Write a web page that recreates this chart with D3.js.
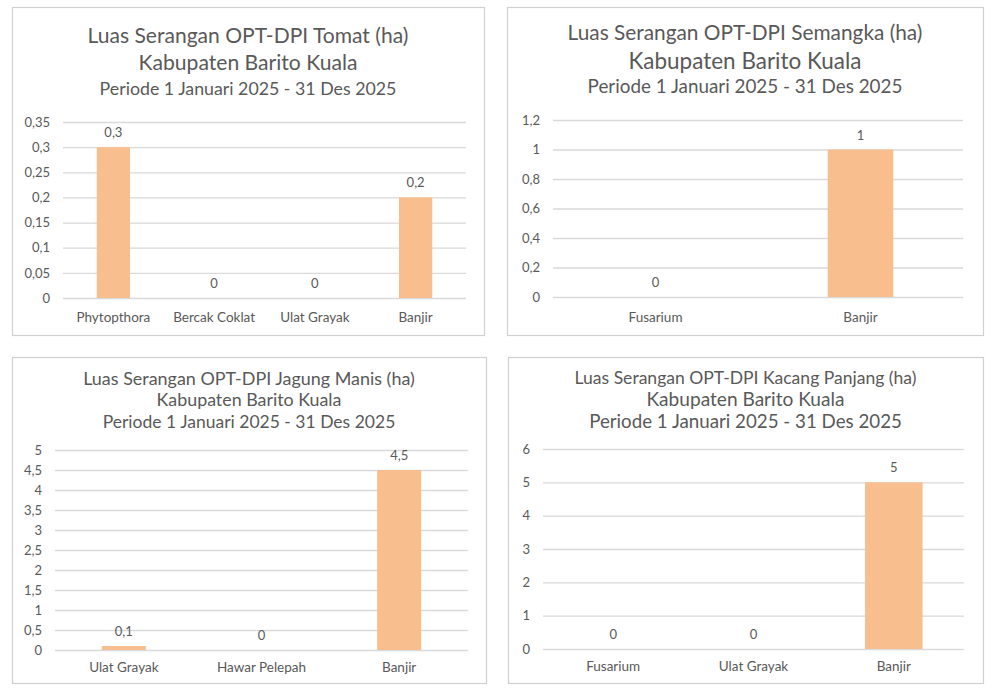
<!DOCTYPE html>
<html><head><meta charset="utf-8">
<script src="https://cdn.jsdelivr.net/npm/d3@7"></script>
<style>body{margin:0;background:#fff}svg{display:block}text{font-family:Lato,"Open Sans",sans-serif;fill:#595959}</style>
</head><body>
<svg id="c" width="995" height="697"></svg>
<script>
// ---- data ----
const titles1 = ["Luas Serangan OPT-DPI Tomat (ha)", "Kabupaten Barito Kuala", "Periode 1 Januari 2025 - 31 Des 2025"];
const categories1 = ["Phytopthora", "Bercak Coklat", "Ulat Grayak", "Banjir"];
const values1 = [0.3, 0, 0, 0.2];
const ticks1 = [0, 0.05, 0.1, 0.15, 0.2, 0.25, 0.3, 0.35];

const titles2 = ["Luas Serangan OPT-DPI Semangka (ha)", "Kabupaten Barito Kuala", "Periode 1 Januari 2025 - 31 Des 2025"];
const categories2 = ["Fusarium", "Banjir"];
const values2 = [0, 1];
const ticks2 = [0, 0.2, 0.4, 0.6, 0.8, 1, 1.2];

const titles3 = ["Luas Serangan OPT-DPI Jagung Manis (ha)", "Kabupaten Barito Kuala", "Periode 1 Januari 2025 - 31 Des 2025"];
const categories3 = ["Ulat Grayak", "Hawar Pelepah", "Banjir"];
const values3 = [0.1, 0, 4.5];
const ticks3 = [0, 0.5, 1, 1.5, 2, 2.5, 3, 3.5, 4, 4.5, 5];

const titles4 = ["Luas Serangan OPT-DPI Kacang Panjang (ha)", "Kabupaten Barito Kuala", "Periode 1 Januari 2025 - 31 Des 2025"];
const categories4 = ["Fusarium", "Ulat Grayak", "Banjir"];
const values4 = [0, 0, 5];
const ticks4 = [0, 1, 2, 3, 4, 5, 6];

// ---- layout ----
const panels = [
  {titles: titles1, cats: categories1, vals: values1, ticks: ticks1,
   box: [12, 7, 484, 335], px: [63, 466], py: [298, 122], titleY: [36, 63, 89], titleW: [321, 219, 297], bar: 0.33, labY: 317},
  {titles: titles2, cats: categories2, vals: values2, ticks: ticks2,
   box: [507, 7, 983, 335], px: [553, 963], py: [297, 120], titleY: [33, 61, 86], titleW: [355, 233, 315], bar: 0.32, labY: 317},
  {titles: titles3, cats: categories3, vals: values3, ticks: ticks3,
   box: [12, 357, 486, 683], px: [55, 468], py: [650, 450], titleY: [379, 400, 422], titleW: [332, 185, 293], bar: 0.32, labY: 667},
  {titles: titles4, cats: categories4, vals: values4, ticks: ticks4,
   box: [508, 357, 983, 683], px: [543, 964], py: [649, 449], titleY: [378, 399, 421], titleW: [342, 198, 313], bar: 0.41, labY: 666}
];

const loc = d3.formatLocale({decimal: ",", thousands: ".", grouping: [3], currency: ["", ""]});
const fmt = v => loc.format("~g")(v);

const svg = d3.select("#c");

panels.forEach(p => {
  const g = svg.append("g");
  g.append("rect").attr("x", p.box[0] + 0.5).attr("y", p.box[1] + 0.5)
    .attr("width", p.box[2] - p.box[0]).attr("height", p.box[3] - p.box[1])
    .attr("fill", "#fff").attr("stroke", "#d0d0d0").attr("stroke-width", 1.2);

  const cx = (p.box[0] + p.box[2]) / 2;
  p.titles.forEach((t, i) => {
    const tx = g.append("text").attr("x", cx).attr("y", p.titleY[i]).attr("dy", "0.35em")
      .attr("text-anchor", "middle").style("font-size", "18px").text(t);
    const w = tx.node().getComputedTextLength();
    tx.style("font-size", (18 * p.titleW[i] / w) + "px");
  });

  const x = d3.scaleBand().domain(p.cats).range(p.px).paddingInner(1 - p.bar).paddingOuter((1 - p.bar) / 2);
  const y = d3.scaleLinear().domain([0, p.ticks[p.ticks.length - 1]]).range(p.py);

  const yAxis = d3.axisLeft(y).tickValues(p.ticks).tickFormat(fmt)
    .tickSize(-(p.px[1] - p.px[0])).tickPadding(13);
  const ya = g.append("g").attr("transform", `translate(${p.px[0]},0)`).call(yAxis);
  ya.select(".domain").remove();
  ya.selectAll(".tick line").attr("stroke", "#d9d9d9").attr("stroke-width", 1.3);
  ya.selectAll(".tick text").style("font-size", "13px").attr("fill", "#595959");

  const data = p.cats.map((c, i) => ({c, v: p.vals[i]}));
  g.selectAll("rect.bar").data(data).join("rect").attr("class", "bar")
    .attr("x", d => x(d.c)).attr("width", x.bandwidth())
    .attr("y", d => y(d.v)).attr("height", d => y(0) - y(d.v))
    .attr("fill", "#f8be8d");

  g.selectAll("text.dl").data(data).join("text").attr("class", "dl")
    .attr("x", d => x(d.c) + x.bandwidth() / 2).attr("y", d => y(d.v) - 10)
    .attr("text-anchor", "middle").style("font-size", "13px").text(d => fmt(d.v));

  g.selectAll("text.xl").data(data).join("text").attr("class", "xl")
    .attr("x", d => x(d.c) + x.bandwidth() / 2).attr("y", p.labY).attr("dy", "0.35em")
    .attr("text-anchor", "middle").style("font-size", "13.5px").text(d => d.c);
});
</script>
</body></html>
